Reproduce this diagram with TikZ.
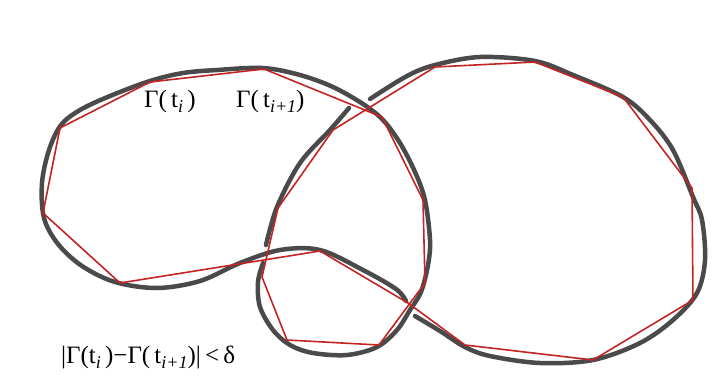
\documentclass[tikz,border=0pt]{standalone}
\usepackage{fontspec}
\setmainfont{Liberation Serif}
\usetikzlibrary{calc}

\definecolor{pencil}{RGB}{74,74,74}
\definecolor{chordred}{RGB}{196,36,36}

\newcommand{\isub}[1]{\raisebox{-0.5ex}{\fontsize{18}{18}\selectfont\itshape #1}}

\begin{document}
\begin{tikzpicture}[
        x=1pt, y=-1pt,
        curve/.style={
          draw=pencil,
          line width=4.5pt,
          line cap=round,
          smooth,
          tension=0.55
        },
        chord/.style={draw=chordred, line width=1.6pt, line join=round},
        lbl/.style={font=\fontsize{25}{28}\selectfont, inner sep=0pt, anchor=base west}
      ]

      \fill[white] (0,0) rectangle (715,384);

      \draw[curve] plot coordinates {(349,108) (330,130) (300,163) (277,207) (266,245)};

      \draw[curve] plot coordinates {(263,263) (258,282) (260,307) (273,330) (290,345) (313,353)
        (347,355) (377,347) (397,330) (410,310) (421,292) (428,265) (430,240) (425,200)
        (415,172) (400,143) (383,120) (363,104) (333,87) (300,75) (263,68) (217,70)
        (183,73) (150,81) (110,96) (80,110) (61,125) (49,150) (42,183) (44,218)
        (58,244) (82,266) (115,282) (157,288) (200,281) (240,263) (280,250) (320,250)
        (363,270) (396,289) (406,301)};

      \draw[curve] plot coordinates {(415,316) (440,331) (465,347) (490,356) (540,363) (593,360)
        (640,343) (673,320) (697,293) (705,260) (702,220) (693,197) (673,150) (650,120)
        (623,97) (573,75) (535,61) (480,57) (435,65) (407,76) (370,99)};

      \coordinate (v1) at (150,82);
      \coordinate (v2) at (264,69);
      \coordinate (v3) at (382,117);
      \coordinate (v4) at (423,200);
      \coordinate (v5) at (425,283);
      \coordinate (v6) at (379,345);
      \coordinate (v7) at (287,340);
      \coordinate (v8) at (262,277);
      \coordinate (v9) at (278,208);
      \coordinate (v10) at (333,130);
      \coordinate (v11) at (435,67);
      \coordinate (v12) at (535,62);
      \coordinate (v13) at (623,97);
      \coordinate (v14) at (692,188);
      \coordinate (v15) at (693,300);
      \coordinate (v16) at (593,360);
      \coordinate (v17) at (465,345);
      \coordinate (v18) at (408,303);
      \coordinate (v19) at (320,251);
      \coordinate (v20) at (120,283);
      \coordinate (v21) at (43,213);
      \coordinate (v22) at (60,128);

      \draw[chord] (v1) \foreach \k in {2,...,22} { -- (v\k) } -- cycle;

      \node[lbl] (gti) at (144,107) {Γ(\,t\isub{i}\,)};
      \node[lbl] (gtnext) at (236,107) {Γ(\,t\isub{i+1})};
      \node[lbl] (gdelta) at (61,363) {|Γ(t\isub{i}\,)−Γ(\,t\isub{i+1})|\,<\,δ};
    \end{tikzpicture}
\end{document}
